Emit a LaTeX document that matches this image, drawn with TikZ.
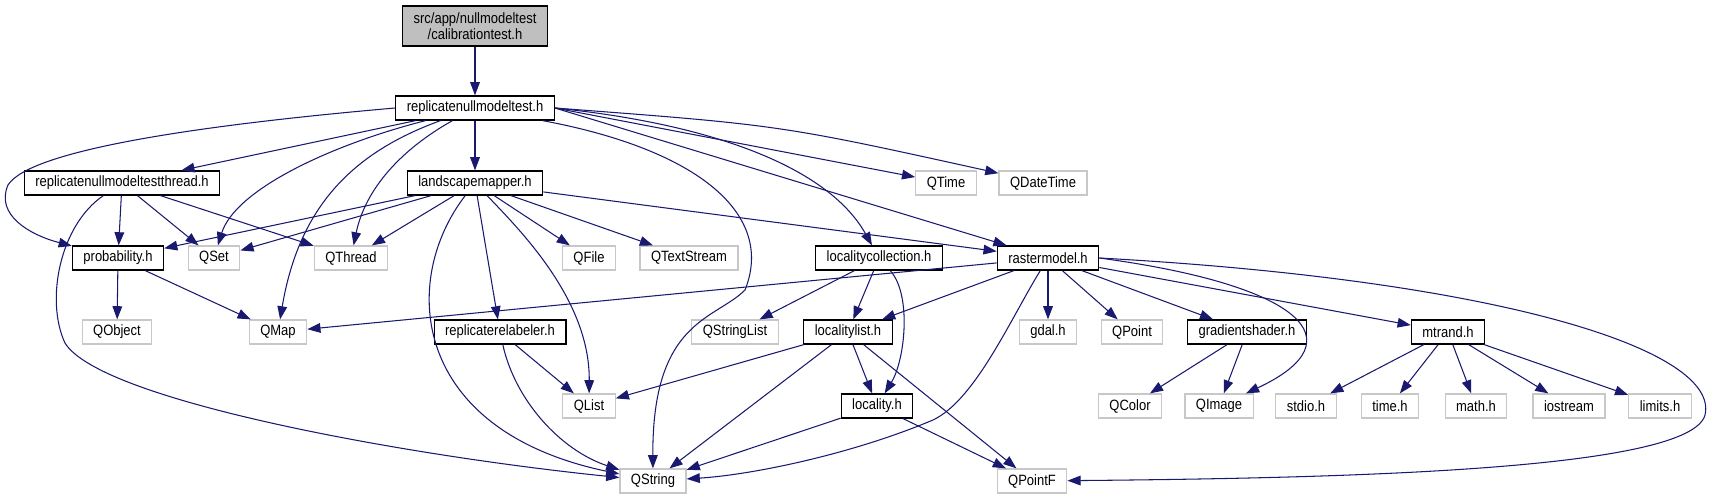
\documentclass[tikz,border=0pt]{standalone}
\usepackage{fontspec}
\setmainfont[FakeStretch=0.87]{Liberation Sans}
\usepackage{xcolor}
\usetikzlibrary{arrows.meta}
\definecolor{depblue}  {RGB}{25,25,112}
\definecolor{sysgray}  {RGB}{200,200,200}
\definecolor{rootgray} {RGB}{191,191,191}

\begin{document}
\begin{tikzpicture}[
  x=0.02cm, y=-0.02cm,
  >={Triangle[length=7.5pt,width=5.5pt]},
  hdr/.style={draw=black,fill=white,line width=0.7pt,minimum height=0.48cm,
              inner xsep=0.22cm,inner ysep=0pt,
              font=\fontsize{8.5}{9}\selectfont},
  sys/.style={hdr,draw=sysgray},
  root/.style={hdr,fill=rootgray,align=center,minimum height=0.8cm},
  dep/.style={->,depblue,line width=0.6pt},
]
\useasboundingbox (0,0) rectangle (1720,500);

%% ── Root and first level ─────────────────────────────────────────────────────
\node[root] (CAL)   at (475,26)  {src/app/nullmodeltest\\/calibrationtest.h};
\node[hdr]  (RNMT)  at (475,108) {replicatenullmodeltest.h};
\node[hdr]  (RNMTT) at (122,183) {replicatenullmodeltestthread.h};
\node[hdr]  (LSM)   at (475,183) {landscapemapper.h};
\node[sys]  (QTIME) at (946,183) {QTime};
\node[sys]  (QDT)   at (1043,183) {QDateTime};

%% ── Third row ────────────────────────────────────────────────────────────────
\node[hdr] (PROB)  at (118,258)  {probability.h};
\node[sys] (QSET)  at (214,258)  {QSet};
\node[sys] (QTHR)  at (351,258)  {QThread};
\node[sys] (QFILE) at (589,258)  {QFile};
\node[sys] (QTS)   at (689,258)  {QTextStream};
\node[hdr] (LCOLL) at (879,258)  {localitycollection.h};
\node[hdr] (RAST)  at (1048,258) {rastermodel.h};

%% ── Fourth row ───────────────────────────────────────────────────────────────
\node[sys] (QOBJ)  at (117,332)  {QObject};
\node[sys] (QMAP)  at (278,332)  {QMap};
\node[hdr] (RREL)  at (500,332)  {replicaterelabeler.h};
\node[sys] (QSL)   at (735,332)  {QStringList};
\node[hdr] (LLIST) at (848,332)  {localitylist.h};
\node[sys] (GDAL)  at (1048,332) {gdal.h};
\node[sys] (QPT)   at (1132,332) {QPoint};
\node[hdr] (GRAD)  at (1247,332) {gradientshader.h};
\node[hdr] (MTR)   at (1448,332) {mtrand.h};

%% ── Fifth and last rows ──────────────────────────────────────────────────────
\node[sys] (QLIST) at (589,406)  {QList};
\node[hdr] (LOC)   at (877,406)  {locality.h};
\node[sys] (QCOL)  at (1130,406) {QColor};
\node[sys] (QIMG)  at (1219,406) {QImage};
\node[sys] (STDIO) at (1306,406) {stdio.h};
\node[sys] (TIME)  at (1390,406) {time.h};
\node[sys] (MATH)  at (1476,406) {math.h};
\node[sys] (IOS)   at (1569,406) {iostream};
\node[sys] (LIM)   at (1660,406) {limits.h};
\node[sys] (QSTR)  at (653,481)  {QString};
\node[sys] (QPF)   at (1032,481) {QPointF};

%% ── replicatenullmodeltest.h ─────────────────────────────────────────────────
\draw[dep] (CAL) -- (RNMT);
\draw[dep] (RNMT) -- (RNMTT);
\draw[dep] (RNMT) -- (LSM);
\draw[dep] (RNMT.west) .. controls (200,125) and (30,150) .. (8,185)
  .. controls (-5,215) and (30,235) .. (PROB);
\draw[dep] (RNMT) .. controls (330,145) and (235,190) .. (QSET);
\draw[dep] (RNMT) .. controls (400,150) and (365,190) .. (QTHR);
\draw[dep] (RNMT) .. controls (360,150) and (300,200) .. (QMAP);
\draw[dep] (RNMT) .. controls (700,150) and (775,215) .. (745,290)
  .. controls (715,320) and (652,320) .. (QSTR);
\draw[dep] (RNMT.east) .. controls (720,125) and (830,170) .. (LCOLL);
\draw[dep] (RNMT.east) -- (RAST);
\draw[dep] (RNMT.east) -- (QTIME);
\draw[dep] (RNMT.east) .. controls (780,125) .. (QDT);

%% ── replicatenullmodeltestthread.h ───────────────────────────────────────────
\draw[dep] (RNMTT) -- (PROB);
\draw[dep] (RNMTT) -- (QSET);
\draw[dep] (RNMTT) -- (QTHR);
\draw[dep] (RNMTT) .. controls (60,225) and (45,300) .. (65,343)
  .. controls (100,400) and (400,455) .. (QSTR);

%% ── landscapemapper.h ────────────────────────────────────────────────────────
\draw[dep] (LSM) -- (PROB);
\draw[dep] (LSM) -- (QSET);
\draw[dep] (LSM) -- (QTHR);
\draw[dep] (LSM) -- (QFILE);
\draw[dep] (LSM) -- (QTS);
\draw[dep] (LSM) -- (RAST);
\draw[dep] (LSM) -- (RREL);
\draw[dep] (LSM) .. controls (520,230) and (590,300) .. (QLIST);
\draw[dep] (LSM) .. controls (400,280) and (410,430) .. (QSTR);

%% ── probability.h, replicaterelabeler.h ──────────────────────────────────────
\draw[dep] (PROB) -- (QOBJ);
\draw[dep] (PROB) -- (QMAP);
\draw[dep] (RREL) -- (QLIST);
\draw[dep] (RREL) .. controls (515,400) and (560,450) .. (QSTR);

%% ── localitycollection.h ─────────────────────────────────────────────────────
\draw[dep] (LCOLL) -- (QSL);
\draw[dep] (LCOLL) -- (LLIST);
\draw[dep] (LCOLL) .. controls (912,295) and (905,360) .. (LOC);

%% ── rastermodel.h ────────────────────────────────────────────────────────────
\draw[dep] (RAST) -- (QMAP);
\draw[dep] (RAST) -- (LLIST);
\draw[dep] (RAST) -- (GDAL);
\draw[dep] (RAST) -- (QPT);
\draw[dep] (RAST) -- (GRAD);
\draw[dep] (RAST) -- (MTR);
\draw[dep] (RAST) .. controls (1010,320) and (975,400) .. (933,420)
  .. controls (850,455) and (750,475) .. (QSTR);
\draw[dep] (RAST.east) .. controls (1300,285) and (1360,340) .. (QIMG);
\draw[dep] (RAST.east) .. controls (1500,280) and (1720,350) .. (1705,415)
  .. controls (1690,470) and (1350,478) .. (QPF);

%% ── localitylist.h, locality.h ───────────────────────────────────────────────
\draw[dep] (LLIST) -- (QLIST);
\draw[dep] (LLIST) -- (QSTR);
\draw[dep] (LLIST) -- (LOC);
\draw[dep] (LLIST) -- (QPF);
\draw[dep] (LOC) -- (QSTR);
\draw[dep] (LOC) -- (QPF);

%% ── gradientshader.h, mtrand.h ───────────────────────────────────────────────
\draw[dep] (GRAD) -- (QCOL);
\draw[dep] (GRAD) -- (QIMG);
\draw[dep] (MTR) -- (STDIO);
\draw[dep] (MTR) -- (TIME);
\draw[dep] (MTR) -- (MATH);
\draw[dep] (MTR) -- (IOS);
\draw[dep] (MTR) -- (LIM);

\end{tikzpicture}
\end{document}
